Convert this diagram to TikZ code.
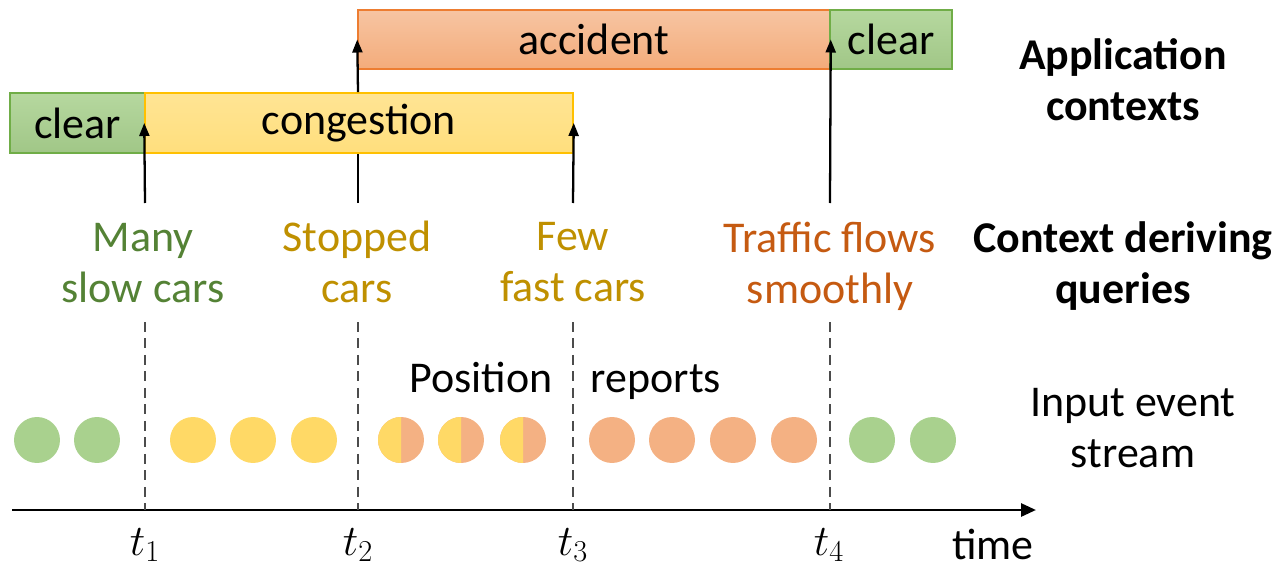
\documentclass[tikz,border=0pt]{standalone}
\usepackage{fontspec}
\setmainfont{Carlito}
\usetikzlibrary{arrows.meta}
\definecolor{evgreen}{HTML}{A9D18E}
\definecolor{evyellow}{HTML}{FFD966}
\definecolor{evorange}{HTML}{F4B183}
\definecolor{txgreen}{HTML}{548235}
\definecolor{txgold}{HTML}{BF9000}
\definecolor{txorange}{HTML}{C55A11}
\definecolor{bdgreen}{HTML}{70AD47}
\definecolor{bdyellow}{HTML}{FFC000}
\definecolor{bdorange}{HTML}{ED7D31}
\begin{document}
\begin{tikzpicture}[x=0.02cm,y=-0.02cm,
  txt/.style={font=\fontsize{25}{29}\selectfont, inner sep=0pt, align=center},
  btxt/.style={font=\bfseries\fontsize{25}{29}\selectfont, inner sep=0pt, align=center},
  ctxbox/.style={rectangle, line width=0.9pt, inner sep=0pt, minimum height=1.2cm,
    font=\fontsize{25}{29}\selectfont},
  greenbox/.style={ctxbox, draw=bdgreen, top color=evgreen!85!white, bottom color=evgreen!95!black},
  yellowbox/.style={ctxbox, draw=bdyellow, top color=evyellow!70!white, bottom color=evyellow!85!white},
  orangebox/.style={ctxbox, draw=bdorange, top color=evorange!75!white, bottom color=evorange!90!bdorange},
  ev/.style={circle, minimum size=0.92cm, inner sep=0pt},
  arr/.style={line width=1.3pt, -{Triangle[length=2.6mm,width=2mm]}},
  dsh/.style={line width=0.8pt, black!70, dash pattern=on 2mm off 1.3mm},
  axisline/.style={line width=1.6pt, -{Triangle[length=3mm,width=2.6mm]}},
  mathlbl/.style={font=\fontsize{25}{28}\selectfont, inner sep=0pt}]
\useasboundingbox (0,0) rectangle (1279,568);

% context boxes
\node[greenbox, minimum width=2.7cm] (clearA) at (77.5,123) {clear};
\node[yellowbox, minimum width=8.56cm] (congestion) at (359,123) {congestion};
\node[orangebox, minimum width=9.44cm, minimum height=1.18cm] (accident) at (594,39.5) {accident};
\node[greenbox, minimum width=2.44cm, minimum height=1.18cm] (clearB) at (891,39.5) {clear};

% side labels
\node[btxt] (appctx) at (1123,80) {Application\\contexts};
\node[btxt] (cdq) at (1123,266.5) {Context deriving\\queries};
\node[txt] (ies) at (1133,428) {Input event\\stream};

% query labels
\node[txt, text=txgreen] (q1) at (143,263.5) {Many\\slow cars};
\node[txt, text=txgold] (q2) at (357,262) {Stopped\\cars};
\node[txt, text=txgold] (q3) at (573,262) {Few\\fast cars};
\node[txt, text=txorange] (q4) at (830,266.5) {Traffic flows\\smoothly};

% arrows
\coordinate (a1) at (145,203);
\coordinate (a2) at (358,203);
\coordinate (a3) at (573,203);
\coordinate (a4) at (830,203);
\draw[arr] (a1) -- (congestion.west);
\draw[line width=1.3pt] (a2) -- (a2 |- congestion.south);
\draw[arr] (a2 |- congestion.north) -- (accident.west);
\draw[arr] (a3) -- (congestion.east);
\draw[arr] (a4) -- (accident.east);

% axis
\coordinate (ax0) at (12,510);
\coordinate (ax1) at (1036,510);
\draw[axisline] (ax0) -- (ax1);

% dashed lines
\foreach \x/\n in {145/1,358/2,573/3,830/4}{
  \coordinate (d\n) at (\x,322);
  \draw[dsh] (d\n) -- (d\n |- ax0);
}

% time labels
\node[mathlbl] (t1) at (145,545) {$t_1$};
\node[mathlbl] (t2) at (358,545) {$t_2$};
\node[mathlbl] (t3) at (573,545) {$t_3$};
\node[mathlbl] (t4) at (829,545) {$t_4$};
\node[txt, anchor=base] (time) at (993,559) {time};

% position reports
\node[txt, anchor=base] (pos) at (481,392) {Position};
\node[txt, anchor=base] (rep) at (656,392) {reports};

% events
\foreach \x/\n in {37/1,97/2,872/14,933/15}{
  \node[ev, fill=evgreen] (e\n) at (\x,440) {};
}
\foreach \x/\n in {193/3,253/4,314/5}{
  \node[ev, fill=evyellow] (e\n) at (\x,440) {};
}
\foreach \x/\n in {612/9,672/10,733/11,794/12}{
  \node[ev, fill=evorange] (e\n) at (\x,440) {};
}
\foreach \x/\n in {401/6,461/7,523/8}{
  \node[ev, fill=evorange] (e\n) at (\x,440) {};
  \begin{scope}
    \clip (e\n.west |- e\n.north) rectangle (e\n.south);
    \fill[evyellow] (e\n.center) circle[radius=0.46cm];
  \end{scope}
}
\end{tikzpicture}
\end{document}
